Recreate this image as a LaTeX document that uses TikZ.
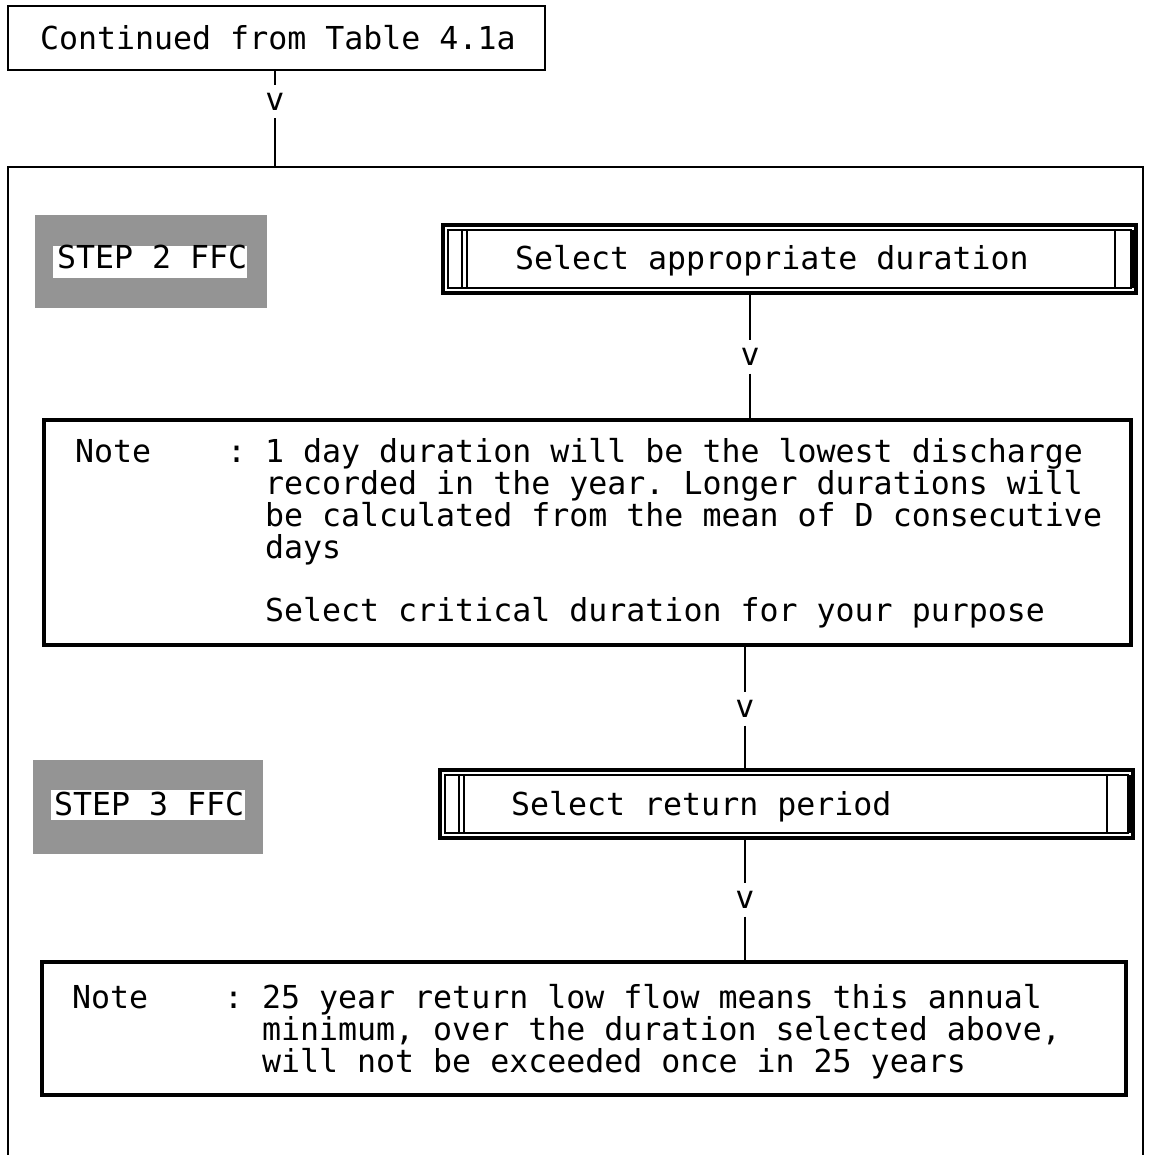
\documentclass[tikz,border=0pt]{standalone}
\usepackage{fontspec}
\setmonofont{DejaVu Sans Mono}
\begin{document}
\begin{tikzpicture}[x=1pt,y=-1pt,
  every node/.style={font=\ttfamily\fontsize{31.6}{32}\selectfont, inner sep=0pt, outer sep=0pt},
  plainbox/.style={draw, line width=2.6pt, anchor=north west},
  notebox/.style={draw, line width=3.2pt, anchor=north west},
  selbox/.style={draw, line width=3.8pt, anchor=north west},
  deco/.style={line width=1.5pt},
  decothick/.style={line width=2.8pt},
  txt/.style={anchor=base west},
  vmark/.style={inner xsep=2pt, inner ysep=8pt},
  con/.style={line width=2.6pt},
  shadebox/.style={fill=black!42, anchor=north west},
  stripbox/.style={fill=white, anchor=north west},
]
\path[use as bounding box, clip] (0,0) rectangle (1153,1155);
\fill[white] (0,0) rectangle (1153,1155);

% top box
\node[plainbox, minimum width=537, minimum height=64] (top) at (8,6) {};
\node[txt] (ttop) at (40,50) {Continued from Table 4.1a};

% outer frame (open at the bottom of the page)
\node[draw, line width=2.6pt, anchor=north west, minimum width=1135, minimum height=1100] (outer) at (8,167) {};

% STEP 2 FFC
\node[shadebox, minimum width=232, minimum height=93] (sh2) at (35,215) {};
\node[stripbox, minimum width=194, minimum height=32] (st2) at (53,246) {};
\node[txt] (step2) at (57,269) {STEP 2 FFC};

% select appropriate duration
\node[selbox, minimum width=693, minimum height=68] (sel1) at (443,225) {};
\draw[deco] ([shift={(5,5)}]sel1.north west) rectangle ([shift={(-5,-5)}]sel1.south east);
\draw[deco] ([shift={(19,5)}]sel1.north west) -- ([shift={(19,-5)}]sel1.south west);
\draw[decothick] ([shift={(24,5)}]sel1.north west) -- ([shift={(24,-5)}]sel1.south west);
\draw[decothick] ([shift={(-21,5)}]sel1.north east) -- ([shift={(-21,-5)}]sel1.south east);
\draw[deco] ([shift={(-3,5)}]sel1.north east) -- ([shift={(-3,-5)}]sel1.south east);
\node[txt] (tsel1) at (515,270) {Select appropriate duration};

% note 1
\node[notebox, minimum width=1087, minimum height=225] (note1) at (44,420) {};
\node[txt] (n1a) at (75,462) {Note};
\node[txt] (n1b) at (227,462) {:};
\node[txt] (n1l1) at (265,462) {1 day duration will be the lowest discharge};
\node[txt] (n1l2) at (265,494) {recorded in the year. Longer durations will};
\node[txt] (n1l3) at (265,526) {be calculated from the mean of D consecutive};
\node[txt] (n1l4) at (265,558) {days};
\node[txt] (n1l5) at (265,621) {Select critical duration for your purpose};

% STEP 3 FFC
\node[shadebox, minimum width=230, minimum height=94] (sh3) at (33,760) {};
\node[stripbox, minimum width=194, minimum height=30] (st3) at (51,790) {};
\node[txt] (step3) at (54,815) {STEP 3 FFC};

% select return period
\node[selbox, minimum width=693, minimum height=68] (sel2) at (440,770) {};
\draw[deco] ([shift={(5,5)}]sel2.north west) rectangle ([shift={(-5,-5)}]sel2.south east);
\draw[deco] ([shift={(19,5)}]sel2.north west) -- ([shift={(19,-5)}]sel2.south west);
\draw[decothick] ([shift={(24,5)}]sel2.north west) -- ([shift={(24,-5)}]sel2.south west);
\draw[decothick] ([shift={(-26,5)}]sel2.north east) -- ([shift={(-26,-5)}]sel2.south east);
\draw[deco] ([shift={(-3,5)}]sel2.north east) -- ([shift={(-3,-5)}]sel2.south east);
\node[txt] (tsel2) at (511,815) {Select return period};

% note 2
\node[notebox, minimum width=1084, minimum height=133] (note2) at (42,962) {};
\node[txt] (n2a) at (72,1008) {Note};
\node[txt] (n2b) at (224,1008) {:};
\node[txt] (n2l1) at (262,1008) {25 year return low flow means this annual};
\node[txt] (n2l2) at (262,1040) {minimum, over the duration selected above,};
\node[txt] (n2l3) at (262,1072) {will not be exceeded once in 25 years};

% connectors with typed "v" marks
\node[vmark] (v1) at (275,101.5) {v};
\node[vmark] (v2) at (750,357) {v};
\node[vmark] (v3) at (745,709) {v};
\node[vmark] (v4) at (745,900) {v};
\draw[con] (top.south -| v1) -- (v1) -- (outer.north -| v1);
\draw[con] (sel1.south -| v2) -- (v2) -- (note1.north -| v2);
\draw[con] (note1.south -| v3) -- (v3) -- (sel2.north -| v3);
\draw[con] (sel2.south -| v4) -- (v4) -- (note2.north -| v4);
\end{tikzpicture}
\end{document}
